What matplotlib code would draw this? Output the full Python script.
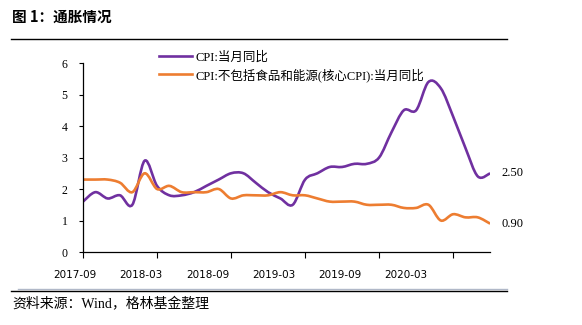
import numpy as np
import matplotlib.pyplot as plt
from matplotlib.path import Path
from matplotlib.patches import PathPatch
from matplotlib.lines import Line2D

plt.rcParams['font.family'] = ['Liberation Serif', 'Noto Sans CJK SC']

# 月度数据 2017-09 ~ 2020-06
months = ["2017-09", "2017-10", "2017-11", "2017-12", "2018-01", "2018-02", "2018-03", "2018-04",
          "2018-05", "2018-06", "2018-07", "2018-08", "2018-09", "2018-10", "2018-11", "2018-12",
          "2019-01", "2019-02", "2019-03", "2019-04", "2019-05", "2019-06", "2019-07", "2019-08",
          "2019-09", "2019-10", "2019-11", "2019-12", "2020-01", "2020-02", "2020-03", "2020-04",
          "2020-05", "2020-06"]
cpi = [1.6, 1.9, 1.7, 1.8, 1.5, 2.9, 2.1, 1.8, 1.8, 1.9, 2.1, 2.3, 2.5, 2.5, 2.2, 1.9,
       1.7, 1.5, 2.3, 2.5, 2.7, 2.7, 2.8, 2.8, 3.0, 3.8, 4.5, 4.5, 5.4, 5.2, 4.3, 3.3, 2.4, 2.5]
core_cpi = [2.3, 2.3, 2.3, 2.2, 1.9, 2.5, 2.0, 2.1, 1.9, 1.9, 1.9, 2.0, 1.7, 1.8, 1.8, 1.8,
            1.9, 1.8, 1.8, 1.7, 1.6, 1.6, 1.6, 1.5, 1.5, 1.5, 1.4, 1.4, 1.5, 1.0, 1.2, 1.1, 1.1, 0.9]
tick_labels = ["2017-09", "2018-03", "2018-09", "2019-03", "2019-09", "2020-03"]
names = ["CPI:当月同比", "CPI:不包括食品和能源(核心CPI):当月同比"]
colors = ["#7030A0", "#ED7D31"]


def smooth_path(x, y):
    # 平滑曲线 (Catmull-Rom -> Bezier)
    pts = np.column_stack([x, y]).astype(float)
    n = len(pts)
    verts = [pts[0]]
    codes = [Path.MOVETO]
    for i in range(n - 1):
        p0 = pts[max(i - 1, 0)]
        p1 = pts[i]
        p2 = pts[i + 1]
        p3 = pts[min(i + 2, n - 1)]
        c1 = p1 + (p2 - p0) / 6
        c2 = p2 - (p3 - p1) / 6
        verts += [c1, c2, p2]
        codes += [Path.CURVE4] * 3
    return Path(verts, codes)


fig = plt.figure(figsize=(5.82, 3.25), dpi=100)
ax = fig.add_axes([0.1426, 0.2246, 0.6996, 0.5814])

x = np.arange(len(months))
for vals, c in zip([cpi, core_cpi], colors):
    ax.add_patch(PathPatch(smooth_path(x, vals), facecolor='none', edgecolor=c, lw=1.9))

ax.set_xlim(0, len(months) - 1)
ax.set_ylim(0, 6)
ax.set_yticks(range(0, 7))
ax.tick_params(axis='y', labelsize=8.5, length=3, width=0.8, pad=8)
ax.set_xticks([months.index(m) for m in tick_labels])
ax.set_xticklabels([])
ax.tick_params(axis='x', length=4, width=0.8, direction='out')
for s in ['top', 'right']:
    ax.spines[s].set_visible(False)
for s in ['left', 'bottom']:
    ax.spines[s].set_linewidth(0.9)

# x轴标签 (原图中与刻度略有偏移)
for i, lab in enumerate(tick_labels):
    fig.text((75 + i * 66.2) / 582, 1 - 275 / 325, lab, fontsize=7.5, ha='center', va='center',
             family='Liberation Sans Narrow')

# 末值标注
ax.annotate(f"{cpi[-1]:.2f}", xy=(x[-1], cpi[-1]), xytext=(8, 0), textcoords='offset points',
            fontsize=9, va='center')
ax.annotate(f"{core_cpi[-1]:.2f}", xy=(x[-1], core_cpi[-1]), xytext=(8, 0), textcoords='offset points',
            fontsize=9, va='center')

handles = [Line2D([], [], color=c, lw=1.9) for c in colors]
leg = ax.legend(handles, names, loc='upper left', bbox_to_anchor=(0.172, 1.095), frameon=False,
                fontsize=9, handlelength=2.6, handletextpad=0.3, labelspacing=0.35, borderpad=0)

# 标题与来源
fig.text(12 / 582, 1 - 17 / 325, "图 1：通胀情况", fontsize=10.5, weight='bold', va='center',
         family=['Noto Sans CJK SC'])
fig.add_artist(Line2D([11 / 582, 507 / 582], [1 - 39 / 325] * 2, color='black', lw=1.0))
fig.add_artist(Line2D([18 / 582, 507 / 582], [1 - 289 / 325] * 2, color='#b0b8c8', lw=1.0))
fig.add_artist(Line2D([11 / 582, 507 / 582], [1 - 291 / 325] * 2, color='black', lw=1.0))
fig.text(12 / 582, 1 - 304 / 325, "资料来源：Wind，格林基金整理", fontsize=10, va='center')

fig.savefig("out.png", dpi=100)
